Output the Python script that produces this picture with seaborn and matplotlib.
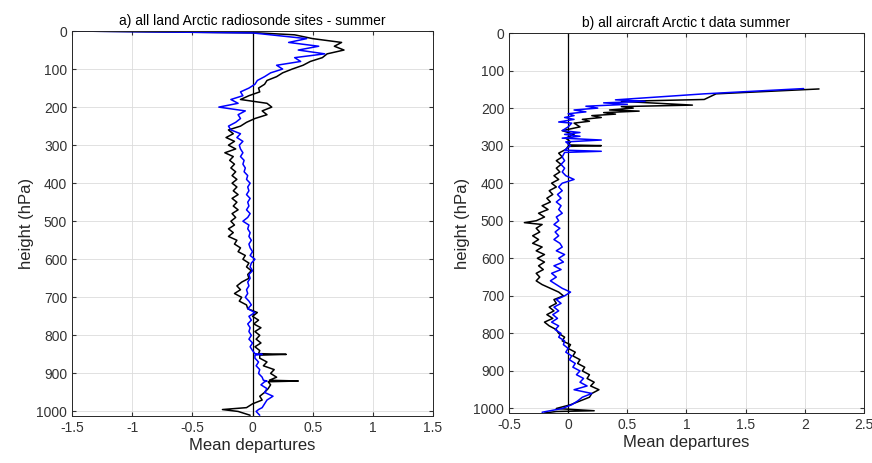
import pandas as pd
import matplotlib
matplotlib.use("Agg")
import matplotlib.pyplot as plt
import seaborn as sns

# panel a: land radiosonde sites (pressure hPa, mean departure)
lev_a = [0, 5, 10, 20, 30, 40, 50, 60, 70, 80, 90, 100, 110, 120, 130, 140, 150, 160, 170, 180,
         190, 200, 210, 220, 230, 240, 250, 260, 270, 280, 290, 300, 310, 320, 330, 340, 350, 360,
         370, 380, 390, 400, 410, 420, 430, 440, 450, 460, 470, 480, 490, 500, 510, 520, 530, 540,
         550, 560, 570, 580, 590, 600, 610, 620, 630, 640, 650, 660, 670, 680, 690, 700, 710, 720,
         730, 740, 750, 760, 770, 780, 790, 800, 810, 820, 830, 840, 848, 850, 852, 860, 870, 880,
         890, 900, 910, 918, 920, 922, 930, 940, 950, 960, 970, 980, 990, 995, 1000, 1010]
black_a = [-1.5, 0.05, 0.35, 0.5, 0.74, 0.68, 0.76, 0.62, 0.58, 0.48, 0.42, 0.33, 0.25, 0.2, 0.12, 0.1,
           0.05, 0.06, -0.03, -0.1, 0.12, 0.16, 0.08, 0.12, 0.02, -0.05, -0.1, -0.2, -0.16, -0.22,
           -0.15, -0.2, -0.14, -0.23, -0.16, -0.19, -0.15, -0.18, -0.14, -0.17, -0.13, -0.17, -0.13,
           -0.16, -0.12, -0.17, -0.13, -0.16, -0.12, -0.17, -0.14, -0.18, -0.15, -0.2, -0.16, -0.2,
           -0.13, -0.15, -0.1, -0.12, -0.06, -0.08, -0.03, -0.05, -0.01, -0.04, -0.03, -0.09, -0.13,
           -0.1, -0.15, -0.09, -0.11, -0.05, -0.04, 0.04, 0.0, 0.05, 0.01, 0.07, 0.02, 0.06, 0.03,
           0.07, 0.02, 0.06, 0.05, 0.28, 0.06, 0.06, 0.12, 0.09, 0.18, 0.15, 0.2, 0.14, 0.38, 0.13,
           0.15, 0.13, 0.1, 0.06, 0.08, 0.0, -0.05, -0.25, -0.12, -0.02]
blue_a = [-1.5, 0.0, 0.15, 0.45, 0.3, 0.55, 0.38, 0.6, 0.35, 0.4, 0.2, 0.25, 0.15, 0.1, 0.04, 0.02,
          -0.03, -0.1, -0.08, -0.18, -0.12, -0.28, -0.06, -0.12, -0.1, -0.14, -0.2, -0.18, -0.1,
          -0.13, -0.08, -0.11, -0.1, -0.08, -0.1, -0.07, -0.08, -0.06, -0.07, -0.04, -0.05, -0.02,
          -0.04, -0.03, -0.05, -0.02, -0.04, -0.03, -0.05, -0.02, -0.04, -0.08, -0.03, -0.04, -0.02,
          -0.03, -0.01, -0.03, -0.02, 0.0, -0.02, 0.02, -0.01, -0.02, 0.0, -0.03, -0.02, -0.04,
          -0.03, -0.05, -0.04, -0.06, -0.03, -0.01, -0.04, 0.02, -0.03, -0.01, -0.04, -0.02, -0.03,
          -0.01, -0.03, 0.0, -0.02, 0.0, 0.02, 0.08, 0.02, 0.02, 0.05, 0.03, 0.06, 0.05, 0.08, 0.09,
          0.12, 0.1, 0.07, 0.12, 0.1, 0.17, 0.12, 0.1, 0.08, 0.05, 0.03, 0.06]

# panel b: aircraft data
lev_b_black = [149, 162, 177, 182, 187, 192, 196, 200, 205, 208, 212, 216, 220, 225, 230, 235, 240,
               250, 260, 270, 280, 290, 298, 300, 302, 310, 320, 330, 340, 350, 360, 370, 380, 390,
               400, 410, 420, 430, 440, 450, 460, 470, 480, 490, 500, 505, 510, 520, 530, 540, 550,
               560, 570, 580, 590, 600, 610, 620, 630, 640, 650, 660, 670, 680, 690, 700, 710, 720,
               730, 740, 750, 760, 770, 780, 790, 800, 810, 820, 830, 840, 850, 860, 870, 880, 890,
               900, 910, 920, 930, 940, 950, 960, 970, 980, 990, 1000, 1006, 1008, 1012]
black_b = [2.12, 1.25, 1.15, 0.45, 0.75, 1.05, 0.45, 0.55, 0.35, 0.6, 0.3, 0.4, 0.2, 0.28, 0.12, 0.18,
           0.05, 0.1, -0.05, 0.05, -0.02, 0.02, 0.0, 0.28, 0.0, -0.02, -0.08, -0.05, -0.1, -0.06,
           -0.1, -0.07, -0.12, -0.08, -0.14, -0.1, -0.16, -0.13, -0.18, -0.15, -0.22, -0.17, -0.25,
           -0.2, -0.27, -0.37, -0.22, -0.27, -0.24, -0.3, -0.25, -0.3, -0.22, -0.27, -0.2, -0.26,
           -0.2, -0.25, -0.21, -0.27, -0.24, -0.27, -0.22, -0.15, -0.08, -0.04, -0.12, -0.1, -0.16,
           -0.12, -0.18, -0.13, -0.2, -0.16, -0.1, -0.08, -0.03, -0.05, 0.02, 0.0, 0.06, 0.04, 0.1,
           0.08, 0.14, 0.12, 0.18, 0.16, 0.22, 0.19, 0.26, 0.2, 0.18, 0.1, 0.02, -0.1, 0.22, -0.1,
           -0.2]
lev_b_blue = [148, 162, 178, 182, 186, 190, 195, 200, 205, 210, 215, 220, 225, 230, 237, 240, 250,
              260, 265, 270, 275, 280, 285, 290, 300, 312, 315, 318, 330, 340, 350, 360, 370, 380,
              390, 400, 410, 420, 430, 440, 450, 460, 470, 480, 490, 500, 510, 520, 530, 540, 550,
              560, 570, 580, 590, 600, 610, 620, 630, 640, 650, 660, 670, 680, 690, 700, 710, 720,
              730, 740, 750, 760, 770, 780, 790, 800, 810, 820, 830, 840, 850, 860, 870, 880, 890,
              900, 910, 920, 930, 940, 950, 960, 970, 980, 990, 1000, 1010]
blue_b = [1.99, 1.15, 0.4, 0.65, 0.3, 0.5, 0.15, 0.25, 0.05, 0.15, 0.0, 0.05, -0.03, 0.05, -0.08, 0.03,
          0.0, -0.05, 0.1, -0.03, 0.1, -0.05, 0.28, -0.02, 0.02, -0.03, 0.28, -0.03, -0.05, -0.03,
          -0.06, -0.03, -0.05, -0.02, 0.05, -0.05, -0.08, -0.05, -0.09, -0.06, -0.1, -0.06, -0.08,
          -0.05, -0.1, -0.08, -0.12, -0.07, -0.11, -0.08, -0.12, -0.07, -0.05, -0.1, -0.03, -0.08,
          -0.04, -0.12, -0.06, -0.14, -0.1, -0.15, -0.1, -0.05, 0.02, -0.03, -0.1, -0.06, -0.12,
          -0.08, -0.13, -0.09, -0.14, -0.08, -0.11, -0.06, -0.08, -0.03, -0.04, 0.0, -0.02, 0.03,
          0.01, 0.06, 0.04, 0.1, 0.07, 0.13, 0.1, 0.16, 0.05, 0.2, 0.12, 0.08, 0.03, -0.05, -0.22]

titles = ["a) all land Arctic radiosonde sites - summer", "b) all aircraft Arctic t data summer"]
xticks_a = [-1.5, -1, -0.5, 0, 0.5, 1, 1.5]
xticks_b = [-0.5, 0, 0.5, 1, 1.5, 2, 2.5]
yticks = [0, 100, 200, 300, 400, 500, 600, 700, 800, 900, 1000]

sns.set_style("whitegrid")
plt.rcParams['font.family'] = ['Liberation Sans', 'DejaVu Sans']

fig = plt.figure(figsize=(8.72, 4.63), dpi=100)
ax1 = fig.add_axes([0.0826, 0.1015, 0.414, 0.8315])
ax2 = fig.add_axes([0.5837, 0.108, 0.4071, 0.8207])

panels = [
    (ax1, lev_a, black_a, lev_a, blue_a, xticks_a, titles[0]),
    (ax2, lev_b_black, black_b, lev_b_blue, blue_b, xticks_b, titles[1]),
]

for ax, lb, vb, lu, vu, xt, title in panels:
    dk = pd.DataFrame({"dep": vb, "p": lb})
    du = pd.DataFrame({"dep": vu, "p": lu})
    sns.lineplot(data=dk, x="dep", y="p", sort=False, estimator=None, color="black",
                 linewidth=1.1, ax=ax)
    sns.lineplot(data=du, x="dep", y="p", sort=False, estimator=None, color="blue",
                 linewidth=1.1, ax=ax)
    ax.axvline(0, color="black", linewidth=0.9, zorder=1)
    ax.set_xlim(xt[0], xt[-1])
    ax.set_ylim(1012, 0)
    ax.set_xticks(xt)
    ax.set_xticklabels([f"{t:g}" for t in xt])
    ax.set_yticks(yticks)
    ax.grid(True, color="#dcdcdc", linewidth=0.6)
    for s in ax.spines.values():
        s.set_visible(True)
        s.set_color("#262626")
        s.set_linewidth(0.7)
    ax.tick_params(direction="in", length=3, labelsize=10, colors="#333333",
                   bottom=True, left=True, top=True, right=True, labeltop=False, labelright=False)
    ax.set_xlabel("Mean departures", fontsize=12, color="#262626", labelpad=2)
    ax.set_ylabel("height (hPa)", fontsize=12, color="#262626", labelpad=2)
    ax.set_title(title, fontsize=10, color="black", pad=4)

fig.savefig("out.png", dpi=100)
